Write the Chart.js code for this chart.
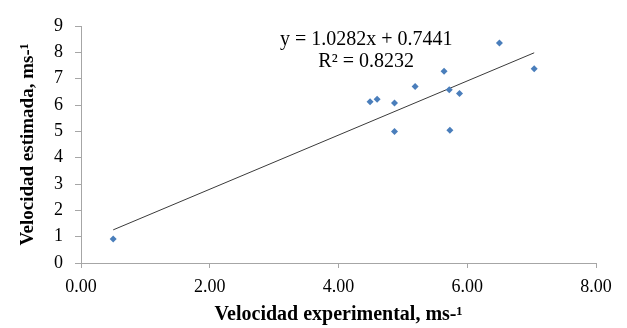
<!DOCTYPE html>
<html>
<head>
<meta charset="utf-8">
<script src="https://cdn.jsdelivr.net/npm/chart.js@4"></script>
<style>
  html, body { margin: 0; padding: 0; background: #fff; }
  #wrap { width: 627px; height: 328px; }
</style>
</head>
<body>
<div id="wrap"><canvas id="chart" width="627" height="328"></canvas></div>
<script>
// data
const velExperimental = [0.50, 4.49, 4.60, 4.87, 4.87, 5.19, 5.64, 5.72, 5.73, 5.88, 6.50, 7.04];
const velEstimada     = [0.91, 6.12, 6.22, 6.08, 4.99, 6.70, 7.28, 6.58, 5.04, 6.44, 8.35, 7.38];

// linear trend line (from the equation shown on the chart)
const slope = 1.0282;
const intercept = 0.7441;
const trendX = [0.50, 7.04];
const equationLines = ['y = 1.0282x + 0.7441', 'R\u00B2 = 0.8232'];

const xTicks = [0, 2, 4, 6, 8];
const yTicks = [0, 1, 2, 3, 4, 5, 6, 7, 8, 9];

const serif = "'Liberation Serif', 'Times New Roman', serif";
const axisGray = '#a6a6a6';

const points = velExperimental.map((x, i) => ({ x: x, y: velEstimada[i] }));
const trend = trendX.map(x => ({ x: x, y: slope * x + intercept }));

// texto de la ecuacion
const equationPlugin = {
    id: 'equation',
    afterDatasetsDraw(chart) {
        const ctx = chart.ctx;
        const xs = chart.scales.x, ys = chart.scales.y;
        ctx.save();
        ctx.fillStyle = '#000';
        ctx.font = '20px ' + serif;
        ctx.textAlign = 'center';
        ctx.textBaseline = 'middle';
        ctx.fillText(equationLines[0], xs.getPixelForValue(4.43), ys.getPixelForValue(8.48));
        ctx.fillText(equationLines[1], xs.getPixelForValue(4.43), ys.getPixelForValue(7.65));
        ctx.restore();
    }
};

new Chart(document.getElementById('chart').getContext('2d'), {
    type: 'scatter',
    data: {
        datasets: [{
            label: 'datos',
            data: points,
            pointStyle: 'rectRot',
            pointRadius: 3.5,
            backgroundColor: '#4a7ebb',
            borderColor: '#4a7ebb',
            borderWidth: 0,
            order: 1
        }, {
            label: 'tendencia',
            type: 'line',
            data: trend,
            borderColor: '#3a3a3a',
            borderWidth: 1,
            pointRadius: 0,
            fill: false,
            order: 2
        }]
    },
    options: {
        responsive: false,
        animation: false,
        layout: { padding: { left: 0, right: 31, top: 26, bottom: 0 } },
        plugins: {
            legend: { display: false },
            tooltip: { enabled: false }
        },
        scales: {
            x: {
                type: 'linear',
                min: 0,
                max: 8,
                afterBuildTicks: axis => { axis.ticks = xTicks.map(v => ({ value: v })); },
                afterFit: axis => { axis.height = 65; },
                grid: { display: true, drawOnChartArea: false, drawTicks: true, tickLength: 5, color: axisGray },
                border: { color: axisGray, width: 1 },
                ticks: {
                    color: '#000',
                    font: { family: serif, size: 18 },
                    padding: 8,
                    maxRotation: 0,
                    callback: v => Number(v).toFixed(2)
                },
                title: {
                    display: true,
                    text: 'Velocidad experimental, ms-\u00B9',
                    color: '#000',
                    font: { family: serif, size: 20, weight: 'bold' },
                    padding: { top: 2, bottom: 1 }
                }
            },
            y: {
                type: 'linear',
                min: 0,
                max: 9,
                afterBuildTicks: axis => { axis.ticks = yTicks.map(v => ({ value: v })); },
                afterFit: axis => { axis.width = 81; },
                grid: { display: true, drawOnChartArea: false, drawTicks: true, tickLength: 6, color: axisGray },
                border: { color: axisGray, width: 1 },
                ticks: {
                    color: '#000',
                    font: { family: serif, size: 18 },
                    padding: 12
                },
                title: {
                    display: true,
                    text: 'Velocidad estimada, ms-\u00B9',
                    color: '#000',
                    font: { family: serif, size: 19, weight: 'bold' },
                    padding: { top: 17, bottom: 4 }
                }
            }
        }
    },
    plugins: [equationPlugin]
});
</script>
</body>
</html>
